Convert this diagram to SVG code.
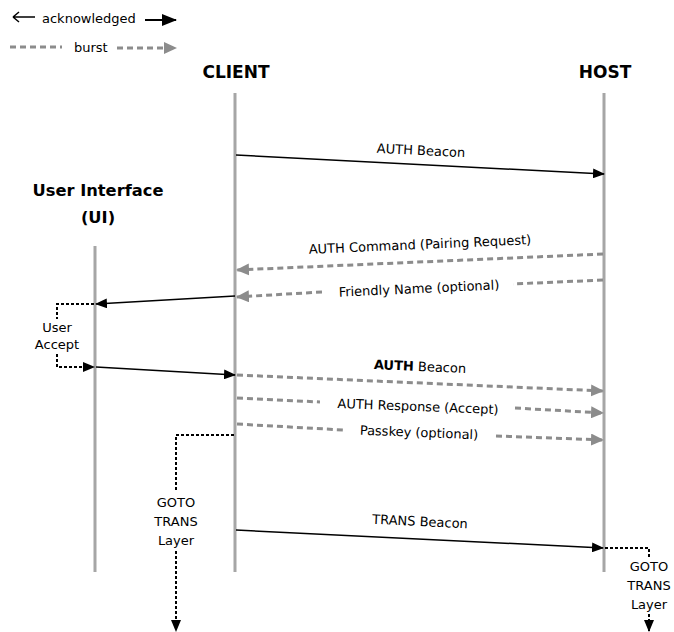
<svg xmlns="http://www.w3.org/2000/svg" width="674" height="632" viewBox="0 0 674 632">
<defs>
<style>
text{font-family:"DejaVu Sans","Verdana",sans-serif;font-size:13px;fill:#000}
.title{font-weight:bold;font-size:17px}
.ui{font-size:16.3px}
.life{stroke:#a6a6a6;stroke-width:3;fill:none}
.ack{stroke:#000;stroke-width:1.5;fill:none}
.burst{stroke:#8c8c8c;stroke-width:3;stroke-dasharray:6 4;fill:none}
.dot{stroke:#000;stroke-width:2;stroke-dasharray:3 2;fill:none}
</style>
<marker id="mb" markerWidth="12" markerHeight="10" refX="11" refY="5" orient="auto" markerUnits="userSpaceOnUse"><path d="M0,0 L12,5 L0,10 z" fill="#000"/></marker>
<marker id="ml" markerWidth="15" markerHeight="12" refX="14" refY="6" orient="auto" markerUnits="userSpaceOnUse"><path d="M0,0 L15,6 L0,12 z" fill="#000"/></marker>
<marker id="mg" markerWidth="13" markerHeight="12" refX="12" refY="6" orient="auto" markerUnits="userSpaceOnUse"><path d="M0,0 L13,6 L0,12 z" fill="#8c8c8c"/></marker>
<marker id="md" markerWidth="12" markerHeight="10" refX="11" refY="5" orient="auto" markerUnits="userSpaceOnUse"><path d="M0,0 L12,5 L0,10 z" fill="#000"/></marker>
</defs>

<g id="legend">
<path d="M13,17 H35 M13,17 L19,12 M13,17 L19,22" stroke="#000" stroke-width="1.5" fill="none"/>
<text x="42" y="23">acknowledged</text>
<line x1="145" y1="20" x2="176" y2="20" stroke="#000" stroke-width="2" marker-end="url(#ml)"/>
<line x1="10" y1="47" x2="62" y2="47" class="burst"/>
<text x="74" y="52">burst</text>
<line x1="117" y1="48" x2="176" y2="48" class="burst" marker-end="url(#mg)"/>
</g>

<g id="client">
<text class="title" x="236" y="78" text-anchor="middle">CLIENT</text>
<line class="life" x1="235" y1="93" x2="235" y2="572"/>
</g>
<g id="host">
<text class="title" x="605" y="78" text-anchor="middle">HOST</text>
<line class="life" x1="604" y1="93" x2="604" y2="572"/>
</g>
<g id="ui">
<text class="title ui" x="98" y="196" text-anchor="middle">User Interface</text>
<text class="title ui" x="98" y="223" text-anchor="middle">(UI)</text>
<line class="life" x1="95" y1="246" x2="95" y2="572"/>
</g>

<g id="connectors">
<line class="ack" x1="236" y1="155" x2="604" y2="174" marker-end="url(#mb)"/>
<text x="421" y="155" text-anchor="middle" transform="rotate(2.9 421 151)">AUTH Beacon</text>

<line class="burst" x1="603" y1="254" x2="237" y2="270" marker-end="url(#mg)"/>
<text x="420" y="249" text-anchor="middle" transform="rotate(-2.5 420 245)">AUTH Command (Pairing Request)</text>

<line class="burst" x1="603" y1="280" x2="513" y2="284"/>
<line class="burst" x1="322" y1="292" x2="237" y2="297" marker-end="url(#mg)"/>
<text x="419" y="293" text-anchor="middle" transform="rotate(-2.6 419 289)">Friendly Name (optional)</text>

<line class="ack" x1="235" y1="296" x2="96" y2="304" marker-end="url(#mb)"/>

<polyline class="dot" points="94,304 57,304 57,319"/>
<text x="57" y="332" text-anchor="middle">User</text>
<text x="57" y="349" text-anchor="middle">Accept</text>
<polyline class="dot" points="57,354 57,367 94,367" marker-end="url(#md)"/>

<line class="ack" x1="96" y1="367" x2="235" y2="375" marker-end="url(#mb)"/>

<line class="burst" x1="237" y1="375" x2="603" y2="391" marker-end="url(#mg)"/>
<text x="420" y="371" text-anchor="middle" transform="rotate(2.5 420 367)"><tspan font-weight="bold">AUTH</tspan> Beacon</text>

<line class="burst" x1="237" y1="398" x2="320" y2="402"/>
<line class="burst" x1="515" y1="408" x2="603" y2="413" marker-end="url(#mg)"/>
<text x="418" y="411" text-anchor="middle" transform="rotate(2.2 418 407)">AUTH Response (Accept)</text>

<line class="burst" x1="237" y1="424" x2="343" y2="430"/>
<line class="burst" x1="496" y1="436" x2="603" y2="440" marker-end="url(#mg)"/>
<text x="419" y="437" text-anchor="middle" transform="rotate(2.2 419 433)">Passkey (optional)</text>

<polyline class="dot" points="234,435 176,435 176,491"/>
<text x="176" y="507" text-anchor="middle">GOTO</text>
<text x="176" y="526" text-anchor="middle">TRANS</text>
<text x="176" y="545" text-anchor="middle">Layer</text>
<line class="dot" x1="176" y1="551" x2="176" y2="631" marker-end="url(#md)"/>

<line class="ack" x1="236" y1="530" x2="603" y2="548" marker-end="url(#mb)"/>
<text x="420" y="526" text-anchor="middle" transform="rotate(2.8 420 522)">TRANS Beacon</text>

<polyline class="dot" points="605,548 649,548 649,558"/>
<text x="649" y="571" text-anchor="middle">GOTO</text>
<text x="649" y="590" text-anchor="middle">TRANS</text>
<text x="649" y="609" text-anchor="middle">Layer</text>
<line class="dot" x1="649" y1="614" x2="649" y2="631" marker-end="url(#md)"/>
</g>
</svg>
